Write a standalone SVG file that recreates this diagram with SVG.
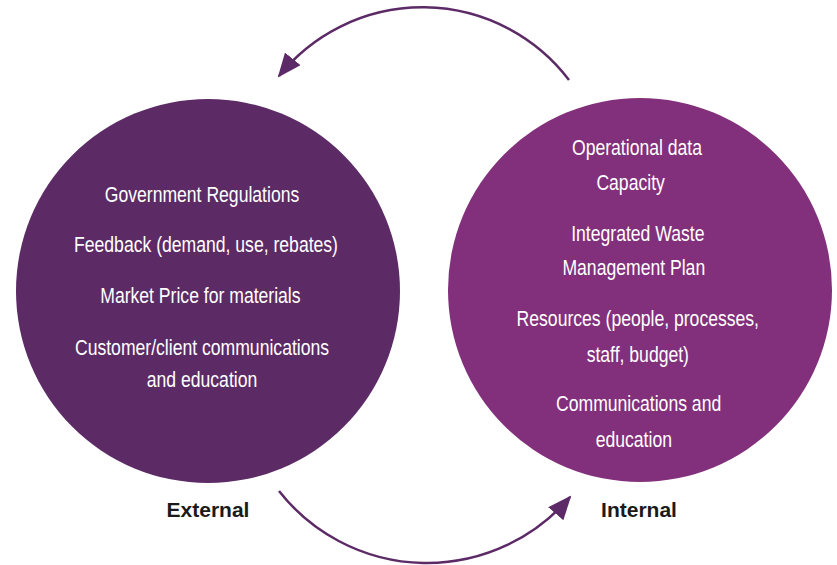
<svg xmlns="http://www.w3.org/2000/svg" width="837" height="565" viewBox="0 0 837 565">
  <style>
    .t { font-family: "Liberation Sans", Arial, sans-serif; font-size: 22px; fill: #ffffff; text-anchor: middle; }
    .lbl { font-family: "Liberation Sans", Arial, sans-serif; font-size: 21px; font-weight: bold; fill: #1a1a1a; text-anchor: middle; }
    .arc { fill: none; stroke: #5c2a66; stroke-width: 2.5; }
  </style>
  <defs>
    <marker id="ah" markerUnits="userSpaceOnUse" markerWidth="24" markerHeight="20" viewBox="0 0 24 20" refX="22" refY="10" orient="auto">
      <path d="M0,0 L24,10 L0,20 z" fill="#5c2a66"/>
    </marker>
  </defs>
  <rect width="837" height="565" fill="#ffffff"/>

  <g id="external">
    <circle cx="208" cy="291" r="192" fill="#5c2b66"/>
    <g transform="translate(202,0) scale(0.8,1)">
      <text class="t" x="0" y="202">Government Regulations</text>
      <text class="t" x="5" y="252">Feedback (demand, use, rebates)</text>
      <text class="t" x="-2" y="303">Market Price for materials</text>
      <text class="t" x="0" y="355">Customer/client communications</text>
      <text class="t" x="0" y="387">and education</text>
    </g>
    <text class="lbl" x="208" y="517">External</text>
  </g>

  <g id="internal">
    <circle cx="640" cy="290" r="192" fill="#82307c"/>
    <g transform="translate(637,0) scale(0.8,1)">
      <text class="t" x="0" y="155">Operational data</text>
      <text class="t" x="-8" y="190">Capacity</text>
      <text class="t" x="1" y="241">Integrated Waste</text>
      <text class="t" x="-4" y="275">Management Plan</text>
      <text class="t" x="1" y="326">Resources (people, processes,</text>
      <text class="t" x="1" y="362">staff, budget)</text>
      <text class="t" x="2" y="411">Communications and</text>
      <text class="t" x="-4" y="447">education</text>
    </g>
    <text class="lbl" x="639" y="517">Internal</text>
  </g>

  <g id="connectors">
    <path class="arc" d="M569,80 A184,184 0 0 0 279,76" marker-end="url(#ah)"/>
    <path class="arc" d="M279,491 A188,188 0 0 0 570,497" marker-end="url(#ah)"/>
  </g>
</svg>
